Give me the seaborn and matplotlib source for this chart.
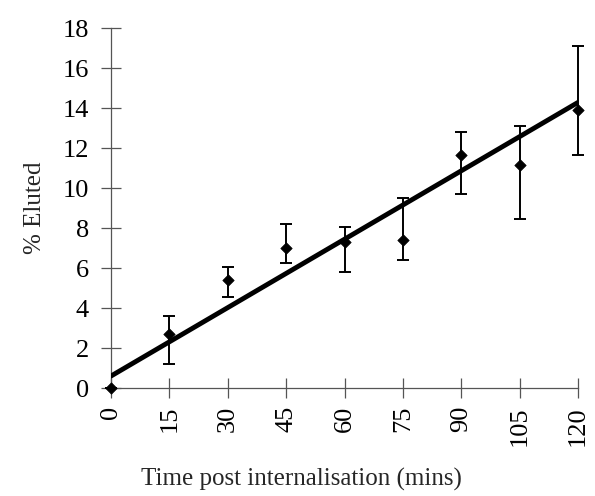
import numpy as np
import pandas as pd
import matplotlib
matplotlib.use("Agg")
import matplotlib.pyplot as plt
import seaborn as sns

# mean % eluted at each time point, with lower/upper error bar ends
time_mins = [0, 15, 30, 45, 60, 75, 90, 105, 120]
pct_eluted = [0.0, 2.7, 5.4, 7.0, 7.3, 7.4, 11.65, 11.15, 13.9]
err_low = [0.0, 1.2, 4.55, 6.25, 5.8, 6.4, 9.7, 8.45, 11.65]
err_high = [0.0, 3.6, 6.05, 8.2, 8.05, 9.5, 12.8, 13.1, 17.1]

# trend line as drawn on the original
fit_slope = 0.114
fit_intercept = 0.6

x_ticks = [0, 15, 30, 45, 60, 75, 90, 105, 120]
y_ticks = [0, 2, 4, 6, 8, 10, 12, 14, 16, 18]

sns.set_style("ticks")
plt.rcParams["font.family"] = ["Liberation Serif", "DejaVu Serif"]

df = pd.DataFrame({"time": time_mins, "pct": pct_eluted,
                   "lo": err_low, "hi": err_high})
fit_df = pd.DataFrame({"time": [time_mins[0], time_mins[-1]]})
fit_df["pct"] = fit_intercept + fit_slope * fit_df["time"]

fig = plt.figure(figsize=(5.95, 4.96), dpi=100)
ax = fig.add_axes([0.1866, 0.2177, 0.7848, 0.7258])

yerr = np.array([df["pct"] - df["lo"], df["hi"] - df["pct"]])
ax.errorbar(df["time"], df["pct"], yerr=yerr, fmt="none", ecolor="black",
            elinewidth=1.4, capsize=4, capthick=1.4, clip_on=False, zorder=3)
sns.scatterplot(data=df, x="time", y="pct", marker="D", s=34, color="black",
                edgecolor="black", ax=ax, clip_on=False, zorder=4)
sns.lineplot(data=fit_df, x="time", y="pct", color="black", linewidth=3.5,
             ax=ax, zorder=5)

ax.set_xlim(0, 120)
ax.set_ylim(0, 18)
ax.set_xticks(x_ticks)
ax.set_yticks(y_ticks)
ax.set_xticklabels([str(t) for t in x_ticks], rotation=90)
ax.tick_params(direction="inout", length=14, width=0.9, colors="#555555",
               labelcolor="black", labelsize=19)
ax.tick_params(axis="x", pad=6)
ax.tick_params(axis="y", pad=9)
for side in ["left", "bottom"]:
    ax.spines[side].set_color("#555555")
    ax.spines[side].set_linewidth(0.9)
sns.despine(ax=ax)

ax.set_xlabel("Time post internalisation (mins)", fontsize=18)
ax.xaxis.set_label_coords(0.407, -0.222)
ax.set_ylabel("% Eluted", fontsize=18, labelpad=12)

fig.savefig("out.png", dpi=100)
